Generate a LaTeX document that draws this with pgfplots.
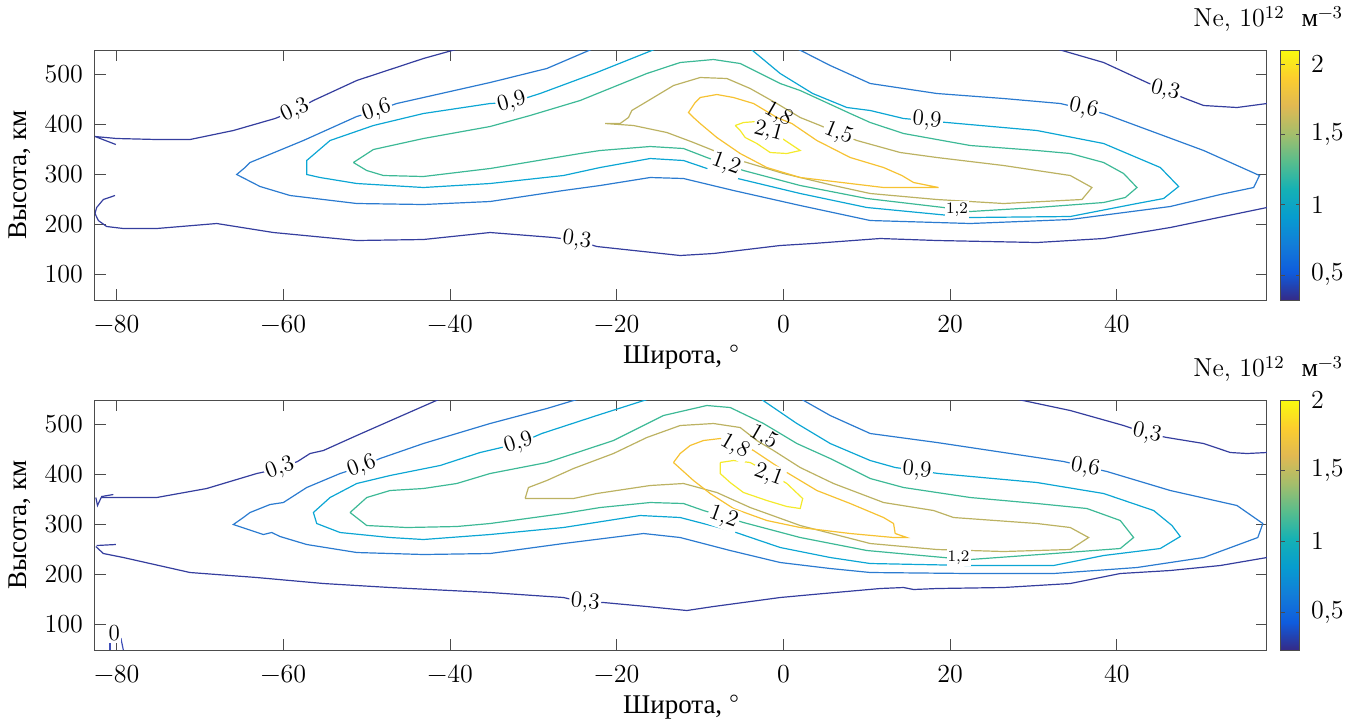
\documentclass[border=0pt]{standalone}
\usepackage{fontspec}
\setmainfont{Liberation Serif}
\usepackage{pgfplots}
\pgfplotsset{compat=1.18}
\pgfplotsset{colormap={parula}{rgb255=(53,42,135) rgb255=(15,92,221) rgb255=(18,125,216) rgb255=(7,156,207) rgb255=(21,177,180) rgb255=(89,189,140) rgb255=(165,190,107) rgb255=(225,185,82) rgb255=(252,206,46) rgb255=(249,251,14)}}
\newcommand{\lmr}{\fontfamily{lmr}\selectfont}

\definecolor{c00}{HTML}{3F4FB8}
\definecolor{c03}{HTML}{353E9E}
\definecolor{c06}{HTML}{2B7BD0}
\definecolor{c09}{HTML}{0CA6D4}
\definecolor{c12}{HTML}{3DB996}
\definecolor{c15}{HTML}{BCB262}
\definecolor{c18}{HTML}{F6C232}
\definecolor{c21}{HTML}{F4EA2C}

\tikzset{
  lbl/.style={fill=white, inner sep=0.8pt, font=\fontsize{11.5}{13}\lmr},
  sml/.style={fill=white, inner sep=0.6pt, font=\fontsize{8}{9}\lmr},
}

\pgfplotsset{
  colorbar shift/.style={xshift=7pt},
  panel/.style={
    scale only axis, width=586pt, height=125pt,
    xmin=-82.6, xmax=58, ymin=48, ymax=548,
    xtick={-80,-60,-40,-20,0,20,40}, ytick={100,200,300,400,500},
    xticklabels={−80,−60,−40,−20,0,20,40}, yticklabels={100,200,300,400,500},
    tick align=inside, major tick length=5.5pt,
    axis line style={black!70, line width=0.5pt},
    every tick/.append style={black!70, line width=0.5pt},
    tick label style={font=\fontsize{13}{15}\lmr},
    xticklabel style={yshift=-4pt},
    yticklabel style={xshift=-2.5pt},
    label style={font=\fontsize{13.5}{15}\selectfont},
    xlabel={Широта, {\lmr °}}, ylabel={Высота, км},
    xlabel style={yshift=1pt},
    colorbar, colormap name=parula,
    colorbar style={
      at={(parent axis.north east)}, anchor=north west,
      scale only axis, width=9.5pt, height=125pt,
      ytick={0.5,1,1.5,2}, yticklabels={{0,5},1,{1,5},2},
      tick align=inside, major tick length=2pt,
      axis line style={black!70, line width=0.5pt},
      every tick/.append style={black!70},
      yticklabel style={font=\fontsize{13}{15}\lmr, xshift=2pt},
    },
    every axis plot/.append style={line width=0.6pt},
  },
}

\begin{document}
\begin{tikzpicture}
% ---------------- top panel ----------------
\begin{axis}[panel, name=top, point meta min=0.32, point meta max=2.1]
\addplot[c03] coordinates {(-80.1,359) (-82.6,375) (-80.0,371) (-75.2,369) (-71.2,369) (-66.0,387) (-61.0,411) (-58.6,427) (-56.4,447) (-51.2,487) (-43.2,531) (-38.9,551)};
\addplot[c03] coordinates {(-80.2,257) (-81.6,249) (-82.4,233) (-82.6,221) (-82.2,207) (-81.2,195) (-79.2,191) (-75.2,191) (-68.0,201) (-61.2,183) (-51.2,167) (-43.2,169) (-35.2,183) (-27.6,173) (-24.8,167) (-22.4,155) (-12.4,137) (-8.4,141) (-0.4,157) (3.5,161) (11.6,171) (18.4,167) (30.4,163) (38.4,171) (46.4,193) (58.0,233)};
\addplot[c03] coordinates {(32.6,551) (38.4,523) (43.6,483) (45.8,467) (48.2,451) (50.4,437) (54.4,433) (58.0,441)};
\addplot[c06] coordinates {(-22.8,551) (-28.4,511) (-35.2,483) (-46.4,441) (-48.8,427) (-51.2,415) (-57.6,367) (-64.0,323) (-64.6,313) (-65.6,299) (-62.8,275) (-59.2,257) (-51.2,241) (-43.2,239) (-35.2,245) (-26.4,267) (-22.0,277) (-16.0,293) (-12.0,291) (-6.0,267) (2.0,237) (10.4,207) (22.4,201) (34.4,209) (46.4,235) (52.4,259) (56.4,273) (57.1,297) (50.4,347) (38.4,421) (33.2,441) (26.4,451) (18.4,461) (10.4,481) (5.6,517) (1.6,551)};
\addplot[c09] coordinates {(-15.2,551) (-22.4,503) (-29.2,461) (-32.6,443) (-35.2,441) (-43.2,421) (-49.2,397) (-54.4,367) (-57.2,327) (-57.2,299) (-55.6,293) (-51.2,281) (-43.2,273) (-35.2,281) (-26.4,297) (-22.0,313) (-16.0,331) (-12.0,327) (-6.0,293) (2.0,261) (10.0,233) (22.4,213) (34.4,215) (42.4,241) (45.6,251) (47.4,275) (45.2,313) (38.4,361) (30.4,387) (19.6,403) (14.4,411) (10.4,427) (7.6,433) (3.5,461) (-0.4,501) (-4.0,551)};
\addplot[c12] coordinates {(-51.6,323) (-49.2,349) (-43.2,371) (-35.2,395) (-30.4,417) (-24.4,447) (-16.4,501) (-12.4,523) (-8.4,529) (-5.2,521) (-0.4,481) (2.0,467) (8.0,421) (10.4,403) (14.4,381) (22.4,357) (30.4,347) (34.4,341) (38.4,323) (40.8,301) (42.4,273) (41.0,253) (38.4,243) (30.4,233) (22.4,225) (19.2,233) (10.0,251) (2.0,277) (-4.8,307) (-9.2,333) (-12.0,351) (-16.0,355) (-22.0,347) (-24.4,341) (-35.2,311) (-43.2,295) (-48.0,297) (-50.0,307) (-51.6,323)};
\addplot[c15] coordinates {(-21.4,401) (-19.6,401) (-18.6,413) (-18.2,427) (-16.8,441) (-15.6,453) (-13.2,477) (-10.0,493) (-6.8,491) (-4.0,471) (-0.8,441) (2.0,413) (4.4,397) (6.6,381) (8.8,367) (14.0,343) (18.4,333) (26.4,317) (34.4,297) (37.0,273) (35.8,249) (26.4,241) (18.4,249) (10.4,261) (6.0,277) (0.0,301) (-6.0,331) (-10.8,363) (-14.0,383) (-18.0,397) (-21.4,401)};
\addplot[c18] coordinates {(-10.6,443) (-10.0,453) (-8.0,459) (-6.0,453) (-3.6,441) (-0.8,413) (1.0,401) (4.0,367) (8.0,333) (12.0,313) (14.2,297) (15.6,283) (18.6,273) (12.0,273) (8.0,281) (2.0,293) (-2.0,313) (-5.2,341) (-8.0,373) (-10.0,401) (-10.8,413) (-11.4,423) (-10.6,443)};
\addplot[c21] coordinates {(-5.8,397) (-4.8,403) (-3.2,405) (-1.6,387) (0.2,367) (2.0,347) (0.4,341) (-1.6,343) (-3.2,361) (-4.6,373) (-5.2,387) (-5.8,397)};
\node[lbl, rotate=25] at (axis cs:-58.6,427) {0,3};
\node[lbl, rotate=18] at (axis cs:-48.8,427) {0,6};
\node[lbl, rotate=15] at (axis cs:-32.6,443) {0,9};
\node[lbl, rotate=-8] at (axis cs:-24.8,167) {0,3};
\node[lbl, rotate=-20] at (axis cs:-6.9,319) {1,2};
\node[lbl, rotate=-22] at (axis cs:6.6,381) {1,5};
\node[lbl, rotate=-15] at (axis cs:-1.8,385) {2,1};
\node[lbl, rotate=-30, fill=none] at (axis cs:-0.6,419) {1,8};
\node[lbl, rotate=-5] at (axis cs:17.2,407) {0,9};
\node[lbl, rotate=-12] at (axis cs:36.0,431) {0,6};
\node[lbl, rotate=-15] at (axis cs:45.8,467) {0,3};
\node[sml] at (axis cs:20.8,229) {1,2};
\end{axis}

% ---------------- bottom panel ----------------
\begin{axis}[panel, name=bot, at={(top.south west)}, anchor=south west, yshift=-175pt,
  point meta min=0.23, point meta max=2.0]
\addplot[c03] coordinates {(-80.4,359) (-81.8,355) (-82.3,337) (-82.5,353)};
\addplot[c03] coordinates {(-81.8,353) (-75.2,353) (-69.2,371) (-63.2,401) (-60.4,411) (-58.3,425) (-56.8,441) (-55.2,447) (-51.2,477) (-45.2,521) (-41.1,551)};
\addplot[c03] coordinates {(-80.1,259) (-82.4,257)};
\addplot[c03] coordinates {(-82.5,255) (-81.6,241) (-79.2,233) (-71.2,203) (-63.2,193) (-55.2,181) (-47.2,173) (-35.2,163) (-26.4,153) (-23.8,143) (-21.6,143) (-16.4,135) (-11.6,127) (-8.4,135) (-0.4,153) (3.5,159) (11.6,171) (14.4,173) (15.6,169) (18.4,171) (26.4,173) (34.4,181) (40.4,201) (46.4,207) (52.4,217) (58.0,233)};
\addplot[c03] coordinates {(27.6,551) (34.4,527) (40.8,497) (43.6,481) (46.0,473) (50.4,461) (53.6,443) (55.6,441) (58.0,443)};
\addplot[c00] coordinates {(-80.8,48) (-80.8,66)};
\addplot[c00] coordinates {(-79.5,72) (-79.2,48)};
\addplot[c06] coordinates {(-24.4,551) (-28.4,531) (-35.2,501) (-43.2,461) (-48.4,431) (-50.6,415) (-53.2,401) (-57.2,373) (-60.0,343) (-61.6,339) (-64.0,323) (-64.8,313) (-66.0,299) (-62.4,279) (-61.4,283) (-60.4,275) (-57.2,259) (-51.2,243) (-43.2,239) (-35.2,241) (-26.4,261) (-16.8,281) (-12.4,273) (-6.4,247) (-0.4,223) (5.6,211) (10.4,203) (22.4,201) (32.4,201) (42.4,213) (50.4,233) (56.9,273) (57.5,301) (54.4,337) (46.4,367) (38.8,405) (33.6,425) (26.4,443) (18.4,463) (10.4,481) (5.6,517) (2.0,551)};
\addplot[c09] coordinates {(-16.0,551) (-22.4,517) (-29.0,481) (-31.8,461) (-36.4,443) (-41.2,417) (-47.2,397) (-51.2,381) (-54.4,353) (-56.4,323) (-56.0,301) (-53.2,283) (-47.2,273) (-43.2,269) (-35.2,279) (-26.4,293) (-17.2,317) (-12.4,313) (-6.4,287) (-0.4,253) (5.6,233) (10.4,221) (22.4,217) (32.4,217) (38.4,237) (45.2,251) (47.6,275) (46.6,297) (44.4,327) (38.4,361) (30.4,383) (18.6,401) (16.0,407) (13.4,413) (10.4,427) (5.6,461) (1.6,501) (-2.8,551)};
\addplot[c12] coordinates {(-52.0,323) (-50.0,353) (-47.2,367) (-43.2,371) (-39.2,381) (-35.2,401) (-28.4,423) (-20.4,467) (-14.4,517) (-9.2,537) (-6.4,533) (-2.4,501) (1.6,461) (5.6,431) (10.4,391) (14.4,373) (22.4,353) (30.4,341) (36.4,331) (40.4,307) (42.0,273) (40.4,251) (32.4,241) (22.4,229) (19.2,233) (10.0,247) (2.0,273) (-4.8,303) (-9.6,327) (-12.0,341) (-16.0,343) (-22.0,333) (-26.4,321) (-35.2,301) (-39.2,295) (-45.2,293) (-50.0,297) (-52.0,323)};
\addplot[c15] coordinates {(-31.0,351) (-30.6,373) (-28.4,387) (-25.2,411) (-20.4,441) (-16.4,473) (-12.4,497) (-8.4,501) (-5.2,493) (-3.2,467) (-1.2,447) (2.0,413) (6.0,381) (12.0,343) (18.0,327) (20.4,313) (30.4,301) (34.4,293) (36.6,273) (34.4,249) (26.4,245) (18.4,249) (10.4,261) (2.0,297) (-4.0,333) (-8.0,363) (-12.0,381) (-16.0,377) (-22.4,361) (-25.2,351) (-31.0,351)};
\addplot[c18] coordinates {(-13.2,423) (-12.4,441) (-11.2,457) (-9.6,467) (-7.6,471) (-5.6,463) (-3.6,447) (0.0,407) (4.0,367) (8.0,341) (12.0,313) (13.2,301) (13.4,281) (14.8,273) (13.2,273) (8.0,281) (2.0,293) (-2.0,307) (-6.0,331) (-8.8,361) (-10.8,387) (-12.4,411) (-13.2,423)};
\addplot[c21] coordinates {(-7.6,423) (-6.0,427) (-4.0,423) (-1.8,403) (0.4,381) (2.3,351) (2.0,331) (0.4,335) (-2.0,347) (-4.8,363) (-6.4,383) (-7.6,401) (-7.6,423)};
\node[lbl, rotate=20] at (axis cs:-60.4,411) {0,3};
\node[lbl, rotate=20] at (axis cs:-50.6,415) {0,6};
\node[lbl, rotate=17] at (axis cs:-31.8,461) {0,9};
\node[lbl, rotate=-5] at (axis cs:-23.8,143) {0,3};
\node[lbl, rotate=-20] at (axis cs:-7.2,313) {1,2};
\node[lbl, rotate=-30] at (axis cs:-5.8,455) {1,8};
\node[lbl, rotate=-30, fill=none] at (axis cs:-2.4,473) {1,5};
\node[lbl, rotate=-20] at (axis cs:-1.8,397) {2,1};
\node[lbl, rotate=-5] at (axis cs:16.0,407) {0,9};
\node[lbl, rotate=-10] at (axis cs:36.2,413) {0,6};
\node[lbl, rotate=-12] at (axis cs:43.6,481) {0,3};
\node[sml] at (axis cs:21.0,233) {1,2};
\node[lbl] at (axis cs:-80.3,81) {0};
\end{axis}

\node[anchor=east, font=\fontsize{13}{15}\lmr] at ([shift={(41.5pt,15.5pt)}]top.north east) {Ne, 10\textsuperscript{12}\ \ {\rmfamily м}\textsuperscript{−3}};
\node[anchor=east, font=\fontsize{13}{15}\lmr] at ([shift={(41.5pt,15.5pt)}]bot.north east) {Ne, 10\textsuperscript{12}\ \ {\rmfamily м}\textsuperscript{−3}};

\pgfresetboundingbox
\path[use as bounding box] ([shift={(-47.5pt,-210pt)}]top.south west) rectangle ([shift={(629.5pt,150pt)}]top.south west);
\end{tikzpicture}
\end{document}
